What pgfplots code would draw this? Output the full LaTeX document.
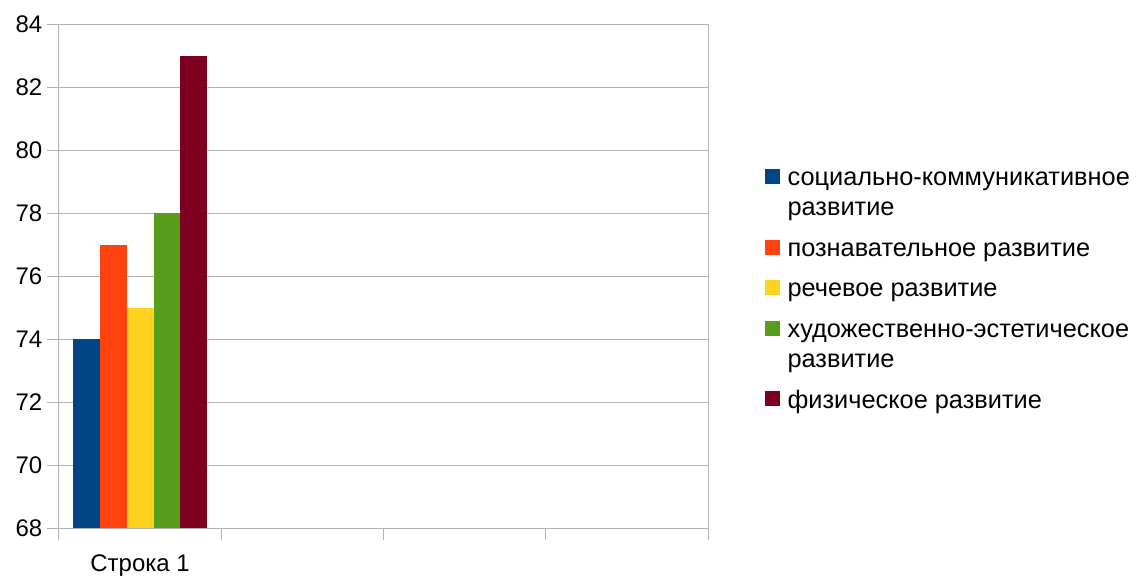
\documentclass[border=0pt]{standalone}
\usepackage{pgfplots}
\pgfplotsset{compat=1.18}
\usepackage{fontspec}
\setmainfont{Liberation Sans}
\definecolor{cblue}{HTML}{004586}
\definecolor{corange}{HTML}{FF420E}
\definecolor{cyellow}{HTML}{FFD320}
\definecolor{cgreen}{HTML}{579D1C}
\definecolor{cred}{HTML}{7E0021}
\definecolor{gridgray}{HTML}{B3B3B3}
\begin{document}
\begin{tikzpicture}
\begin{axis}[
    at={(0pt,0pt)}, anchor=south west,
    scale only axis,
    width=486.75pt, height=378pt,
    xmin=0, xmax=4,
    ymin=68, ymax=84,
    ytick={68,70,...,84},
    xtick={0.5},
    xticklabels={Строка 1},
    minor xtick={0,1,2,3,4},
    major x tick style={draw=none},
    xtick pos=bottom, ytick pos=left,
    tick align=outside,
    major tick length=9pt,
    minor tick length=9pt,
    tick style={gridgray, line width=0.75pt},
    axis line style={gridgray, line width=0.75pt},
    ymajorgrids=true,
    grid style={gridgray, line width=0.75pt},
    /pgf/number format/assume math mode=true,
    ticklabel style={font=\fontsize{18}{21}\selectfont, text=black},
    xticklabel style={yshift=-7.5pt},
    ybar, bar width=0.1655, bar shift=0pt,
    legend style={at={(1.0878,0.723)}, anchor=north west,
        draw=none, fill=none, inner sep=0pt,
        row sep=12.7pt, column sep=5.5pt,
        font=\fontsize{19}{22.8}\selectfont,
        nodes={inner sep=0pt, align=left},
        cells={anchor=north west}},
    legend image code/.code={\fill[#1, draw=none] (0pt,-14.9pt) rectangle (11.25pt,-3.65pt);},
]
\addplot[fill=cblue, draw=none] coordinates {(0.169,74)};
\addlegendentry{\strut социально-коммуникативное\\\strut развитие}
\addplot[fill=corange, draw=none] coordinates {(0.3345,77)};
\addlegendentry{\strut познавательное развитие}
\addplot[fill=cyellow, draw=none] coordinates {(0.5,75)};
\addlegendentry{\strut речевое развитие}
\addplot[fill=cgreen, draw=none] coordinates {(0.6655,78)};
\addlegendentry{\strut художественно-эстетическое\\\strut развитие}
\addplot[fill=cred, draw=none] coordinates {(0.831,83)};
\addlegendentry{\strut физическое развитие}
\end{axis}
\pgfresetboundingbox
\useasboundingbox (-44.25pt,-36pt) rectangle (811.5pt,396pt);
\end{tikzpicture}
\end{document}
